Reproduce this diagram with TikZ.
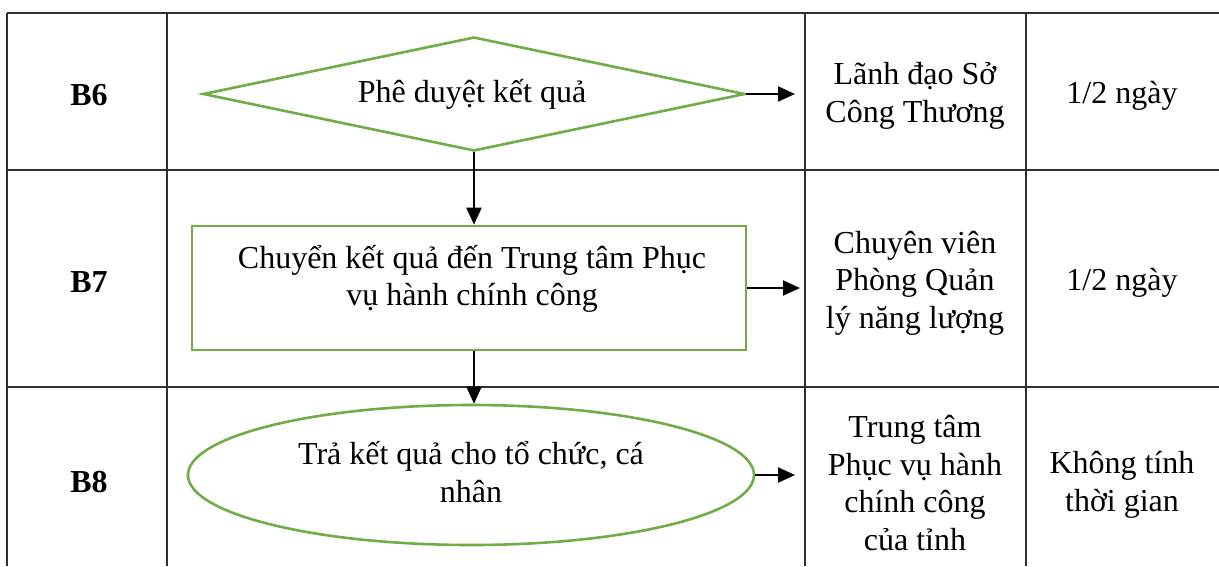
\documentclass[tikz,border=0pt]{standalone}
\usepackage{fontspec}
\setmainfont{Liberation Serif}
\usetikzlibrary{shapes.geometric,arrows.meta}
\definecolor{gr}{HTML}{70AD47}
\definecolor{grid}{HTML}{303030}
\begin{document}
\begin{tikzpicture}[x=1pt,y=-1pt,
  every node/.style={font=\fontsize{32}{37.5}\selectfont, inner sep=0pt, align=center},
  gridline/.style={draw=grid, line width=1.5pt},
  shp/.style={draw=gr, line width=2.6pt},
  conn/.style={draw=black, line width=2pt, -{Triangle[length=17pt,width=15pt]}},
  lbl/.style={font=\fontsize{32}{37.5}\selectfont\bfseries}]
\useasboundingbox (0,0) rectangle (1219,566);
\fill[white] (0,0) rectangle (1219,566);
% table grid
\draw[gridline] (7,13) -- (1219,13);
\draw[gridline] (7,170) -- (1219,170);
\draw[gridline] (7,387) -- (1219,387);
\draw[gridline] (7,13) -- (7,566);
\draw[gridline] (167,13) -- (167,566);
\draw[gridline] (805,13) -- (805,566);
\draw[gridline] (1026,13) -- (1026,566);
% step labels
\node[lbl] (b6) at (89,95) {B6};
\node[lbl] (b7) at (89,282) {B7};
\node[lbl] (b8) at (89,482) {B8};
% shapes
\node[shp, diamond, minimum width=542pt, minimum height=114pt, aspect=4.75] (d) at (474,94) {};
\node (dt) at (472,94) {Phê duyệt kết quả};
\node[shp, rectangle, minimum width=554pt, minimum height=124pt] (r) at (469,288) {};
\node (rt) at (472,279) {Chuyển kết quả đến Trung tâm Phục\\vụ hành chính công};
\node[shp, ellipse, minimum width=566pt, minimum height=140pt] (e) at (471,475) {};
\node (et) at (471,472) {Trả kết quả cho tổ chức, cá\\nhân};
% responsible
\node (p6) at (915,96) {Lãnh đạo Sở\\Công Thương};
\node (p7) at (915,283) {Chuyên viên\\Phòng Quản\\lý năng lượng};
\node (p8) at (915,483) {Trung tâm\\Phục vụ hành\\chính công\\của tỉnh};
% time
\node (t6) at (1122,96) {1/2 ngày};
\node (t7) at (1122,283) {1/2 ngày};
\node (t8) at (1122,485) {Không tính\\thời gian};
% connectors
\coordinate (a6) at (795,94);
\coordinate (a7) at (800,288);
\coordinate (a8) at (795,475);
\draw[conn] (d.east) -- (a6);
\draw[conn] (r.east) -- (a7);
\draw[conn] (e.east) -- (a8);
\draw[conn] (d.south) -- (d.south |- r.north);
\draw[conn] (d.south |- r.south) -- (d.south |- e.north);
\end{tikzpicture}
\end{document}
